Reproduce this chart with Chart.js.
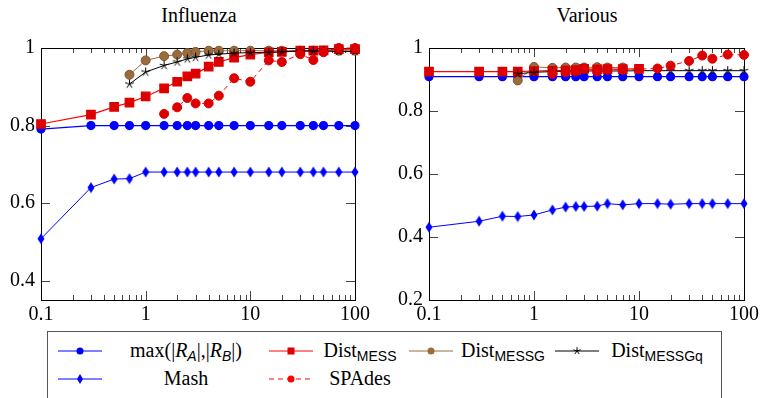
<!DOCTYPE html>
<html>
<head>
<meta charset="utf-8">
<script src="https://cdn.jsdelivr.net/npm/chart.js@4.4.1/dist/chart.umd.min.js"></script>
<style>
  html, body { margin: 0; padding: 0; background: #fff; overflow: hidden; }
  body { width: 763px; height: 398px; position: relative; font-family: 'Liberation Serif', 'DejaVu Serif', serif; }
  .title { position: absolute; top: 4px; width: 200px; text-align: center; font-size: 20px; color: #000; }
  .box { position: absolute; }
  #legend { position: absolute; left: 47px; top: 331px; width: 675px; height: 80px; border: 1px solid #555; box-sizing: border-box; }
  .lg { position: absolute; font-family: 'Liberation Serif', 'DejaVu Serif', serif; font-size: 20px; line-height: 24px; text-align: center; color: #000; white-space: nowrap; }
  .lg sub { font-family: 'Liberation Sans', 'DejaVu Sans', sans-serif; font-size: 14px; vertical-align: -4px; line-height: 0; }
  .lg i sub { font-family: 'Liberation Serif', serif; }
  .smp { position: absolute; }
</style>
</head>
<body>
<div class="title" style="left:99px">Influenza</div>
<div class="title" style="left:487px">Various</div>
<div class="box" style="left:0px;top:30px;width:373px;height:300px"><canvas id="left" width="373" height="300"></canvas></div>
<div class="box" style="left:388px;top:30px;width:374px;height:300px"><canvas id="right" width="374" height="300"></canvas></div>
<div id="legend"></div>

<script>
// x の値（共通）
const xAll = [0.1, 0.3, 0.5, 0.7, 1, 1.5, 2, 2.5, 3, 4, 5, 7, 10, 15, 20, 30, 40, 50, 70, 100];
const xFrom07 = xAll.slice(3);   // 0.7 .. 100
const xFrom15 = xAll.slice(5);   // 1.5 .. 100
const xTo10 = xAll.slice(0, 13); // 0.1 .. 10
const xTo7 = xAll.slice(3, 12);  // 0.7 .. 7

const xTicks = [0.1, 1, 10, 100];
const yTicksInf = [0.4, 0.6, 0.8, 1];
const yTicksVar = [0.2, 0.4, 0.6, 0.8, 1];

// Influenza
const maxRInf = [0.791, 0.8, 0.8, 0.8, 0.8, 0.8, 0.8, 0.8, 0.8, 0.8, 0.8, 0.8, 0.8, 0.8, 0.8, 0.8, 0.8, 0.8, 0.8, 0.8];
const messInf = [0.804, 0.828, 0.848, 0.859, 0.875, 0.896, 0.913, 0.927, 0.934, 0.952, 0.964, 0.975, 0.983, 0.989, 0.990, 0.993, 0.993, 0.994, 0.997, 0.997];
const messGInf = [0.931, 0.968, 0.979, 0.983, 0.987, 0.990, 0.993, 0.993, 0.993, 0.993, 0.993, 0.993, 0.993, 0.993, 0.993, 0.993, 0.993];
const messGqInf = [0.907, 0.938, 0.955, 0.964, 0.972, 0.976, 0.982, 0.984, 0.987, 0.988, 0.989, 0.990, 0.992, 0.992, 0.992, 0.991, 0.991];
const mashInf = [0.508, 0.64, 0.662, 0.663, 0.68, 0.68, 0.68, 0.68, 0.68, 0.68, 0.68, 0.68, 0.68, 0.68, 0.68, 0.68, 0.68, 0.68, 0.68, 0.68];
const spadesInf = [0.83, 0.847, 0.871, 0.857, 0.857, 0.877, 0.922, 0.913, 0.968, 0.964, 0.984, 0.969, 0.989, 1.0, 1.0];

// Various
const maxRVar = [0.909, 0.909, 0.909, 0.909, 0.909, 0.909, 0.909, 0.909, 0.909, 0.909, 0.909, 0.909, 0.909, 0.909, 0.909, 0.909, 0.909, 0.909, 0.909, 0.909];
const messVar = [0.925, 0.925, 0.925, 0.925, 0.927, 0.928, 0.929, 0.930, 0.934, 0.932, 0.933, 0.933, 0.934];
const messGVar = [0.897, 0.94, 0.937, 0.938, 0.938, 0.938, 0.939, 0.938, 0.938];
const messGqVar = [0.918, 0.923, 0.925, 0.926, 0.926, 0.927, 0.927, 0.927, 0.927, 0.928, 0.928, 0.928, 0.928, 0.928, 0.928, 0.928, 0.928];
const mashVar = [0.431, 0.45, 0.466, 0.465, 0.47, 0.486, 0.495, 0.497, 0.497, 0.498, 0.506, 0.502, 0.506, 0.506, 0.504, 0.506, 0.506, 0.506, 0.506, 0.506];
const spadesVar = [0.918, 0.923, 0.926, 0.935, 0.926, 0.931, 0.931, 0.933, 0.935, 0.944, 0.959, 0.976, 0.966, 0.979, 0.978];

const BLUE = '#0000ff';
const RED = '#ff0000';
const RED_MARK = '#dd0000';
const BROWN = '#9c6b3d';
const SERIF = "'Liberation Serif', 'DejaVu Serif', serif";

// マーカー用の小さなキャンバス
function makeDiamond(color) {
  const c = document.createElement('canvas');
  c.width = 8; c.height = 12;
  const g = c.getContext('2d');
  g.fillStyle = color;
  g.beginPath();
  g.moveTo(4, 0.5); g.lineTo(7.5, 6); g.lineTo(4, 11.5); g.lineTo(0.5, 6);
  g.closePath(); g.fill();
  return c;
}
function makeStar(color) {
  const c = document.createElement('canvas');
  c.width = 11; c.height = 11;
  const g = c.getContext('2d');
  g.strokeStyle = color; g.lineWidth = 1;
  g.beginPath();
  for (let k = 0; k < 5; k++) {
    const a = -Math.PI / 2 + k * 2 * Math.PI / 5;
    g.moveTo(5.5, 5.5);
    g.lineTo(5.5 + 4.6 * Math.cos(a), 5.5 + 4.6 * Math.sin(a));
  }
  g.stroke();
  return c;
}
const diamond = makeDiamond(BLUE);
const star = makeStar('#000');

const pts = (xs, ys) => xs.map((x, i) => ({ x: x, y: ys[i] }));

function buildDatasets(d) {
  return [
    { label: 'max', data: pts(xAll, d.maxR), borderColor: BLUE, backgroundColor: BLUE, pointStyle: 'circle', pointRadius: 4, borderWidth: 1.2, order: 6 },
    { label: 'mash', data: pts(xAll, d.mash), borderColor: BLUE, backgroundColor: BLUE, pointStyle: diamond, borderWidth: 1, order: 5 },
    { label: 'messG', data: pts(d.xG, d.messG), borderColor: BROWN, backgroundColor: BROWN, pointBorderColor: '#7d5530', pointStyle: 'circle', pointRadius: 4.5, borderWidth: 1, order: 4 },
    { label: 'mess', data: pts(d.xM, d.mess), borderColor: RED, backgroundColor: RED_MARK, pointBorderColor: RED_MARK, pointStyle: 'rect', pointRadius: 6, borderWidth: 1.2, order: 3 },
    { label: 'messGq', data: pts(xFrom07, d.messGq), borderColor: '#000', backgroundColor: '#000', pointStyle: star, borderWidth: 1, order: 2 },
    { label: 'spades', data: pts(xFrom15, d.spades), borderColor: RED, backgroundColor: RED_MARK, pointBorderColor: RED_MARK, pointStyle: 'circle', pointRadius: 4.5, borderWidth: 1, borderDash: [5, 4], order: 1 }
  ].map(ds => ({ ...ds, fill: false, tension: 0, clip: false, pointHoverRadius: ds.pointRadius }));
}

// 枠と内向きの目盛り
const framePlugin = {
  id: 'frame',
  beforeDatasetsDraw(chart) {
    const { ctx, chartArea: a, scales } = chart;
    const x = scales.x, y = scales.y;
    ctx.save();
    ctx.strokeStyle = '#444';
    ctx.lineWidth = 1;
    ctx.beginPath();
    [0.1, 1, 10].forEach(d => {
      for (let k = 1; k < 10; k++) {
        const v = d * k;
        if (v <= 0.1) continue;
        const px = Math.round(x.getPixelForValue(v)) + 0.5;
        const len = k === 1 ? 9 : 5;
        ctx.moveTo(px, a.bottom); ctx.lineTo(px, a.bottom - len);
        ctx.moveTo(px, a.top); ctx.lineTo(px, a.top + len);
      }
    });
    y.ticks.forEach(t => {
      if (t.value <= y.min || t.value >= y.max) return;
      const py = Math.round(y.getPixelForValue(t.value)) + 0.5;
      ctx.moveTo(a.left, py); ctx.lineTo(a.left + 9, py);
      ctx.moveTo(a.right, py); ctx.lineTo(a.right - 9, py);
    });
    ctx.stroke();
    ctx.strokeStyle = '#000';
    ctx.strokeRect(Math.round(a.left) + 0.5, Math.round(a.top) + 0.5, Math.round(a.right - a.left), Math.round(a.bottom - a.top));
    ctx.restore();
  }
};

function makeChart(id, datasets, yMin, yTicks) {
  const tickFont = { family: SERIF, size: 20 };
  return new Chart(document.getElementById(id), {
    type: 'line',
    data: { datasets: datasets },
    options: {
      responsive: false,
      animation: false,
      layout: { padding: { top: 15, right: 17, left: 0, bottom: 0 } },
      plugins: { legend: { display: false }, tooltip: { enabled: false } },
      scales: {
        x: {
          type: 'logarithmic', min: 0.1, max: 100,
          grid: { display: false, drawTicks: false }, border: { display: false },
          afterBuildTicks: s => { s.ticks = xTicks.map(v => ({ value: v })); },
          afterFit: s => { s.height = 30; },
          ticks: { font: tickFont, color: '#000', padding: 3, maxRotation: 0, autoSkip: false, callback: v => String(v) }
        },
        y: {
          type: 'linear', min: yMin, max: 1,
          grid: { display: false, drawTicks: false }, border: { display: false },
          afterBuildTicks: s => { s.ticks = yTicks.map(v => ({ value: v })); },
          afterFit: s => { s.width = 41; },
          ticks: { font: tickFont, color: '#000', padding: 6, autoSkip: false, callback: v => (v === 1 ? '1' : v.toFixed(1)) }
        }
      }
    },
    plugins: [framePlugin]
  });
}

makeChart('left', buildDatasets({
  maxR: maxRInf, mash: mashInf, xG: xFrom07, messG: messGInf, xM: xAll, mess: messInf, messGq: messGqInf, spades: spadesInf
}), 0.35, yTicksInf);

makeChart('right', buildDatasets({
  maxR: maxRVar, mash: mashVar, xG: xTo7, messG: messGVar, xM: xTo10, mess: messVar, messGq: messGqVar, spades: spadesVar
}), 0.2, yTicksVar);

// 凡例（HTML）
function sample(marker, color, dash) {
  const d = dash ? ' stroke-dasharray="5,4"' : '';
  let m = '';
  if (marker === 'circle') m = `<circle cx="22" cy="7" r="3.5" fill="${color}"/>`;
  if (marker === 'rect') m = `<rect x="18.5" y="3.5" width="7" height="7" fill="${RED_MARK}"/>`;
  if (marker === 'diamond') m = `<polygon points="22,2 25,7 22,12 19,7" fill="${color}"/>`;
  if (marker === 'star') {
    let p = '';
    for (let k = 0; k < 5; k++) {
      const a = -Math.PI / 2 + k * 2 * Math.PI / 5;
      p += `M22 7 L${(22 + 3.8 * Math.cos(a)).toFixed(2)} ${(7 + 3.8 * Math.sin(a)).toFixed(2)} `;
    }
    m = `<path d="${p}" stroke="#000" stroke-width="1"/>`;
  }
  return `<svg width="44" height="14"><line x1="0" y1="7" x2="44" y2="7" stroke="${color}" stroke-width="1"${d}/>${m}</svg>`;
}
const legendItems = [
  { sx: 10, sy: 12, svg: sample('circle', BLUE), tx: 58, tw: 160, ty: 6, html: 'max(|<i>R</i><sub><i>A</i></sub>|,|<i>R</i><sub><i>B</i></sub>|)' },
  { sx: 221, sy: 12, svg: sample('rect', RED), tx: 268, tw: 88, ty: 6, html: 'Dist<sub>MESS</sub>' },
  { sx: 361, sy: 12, svg: sample('circle', BROWN), tx: 406, tw: 98, ty: 6, html: 'Dist<sub>MESSG</sub>' },
  { sx: 507, sy: 12, svg: sample('star', '#000'), tx: 554, tw: 110, ty: 6, html: 'Dist<sub>MESSGq</sub>' },
  { sx: 10, sy: 40, svg: sample('diamond', BLUE), tx: 58, tw: 160, ty: 34, html: 'Mash' },
  { sx: 221, sy: 40, svg: sample('circle', RED, true), tx: 268, tw: 88, ty: 34, html: 'SPAdes' }
];
const lg = document.getElementById('legend');
legendItems.forEach(it => {
  lg.insertAdjacentHTML('beforeend',
    `<div class="smp" style="left:${it.sx}px;top:${it.sy}px">${it.svg}</div>` +
    `<div class="lg" style="left:${it.tx}px;top:${it.ty}px;width:${it.tw}px">${it.html}</div>`);
});
</script>
</body>
</html>
